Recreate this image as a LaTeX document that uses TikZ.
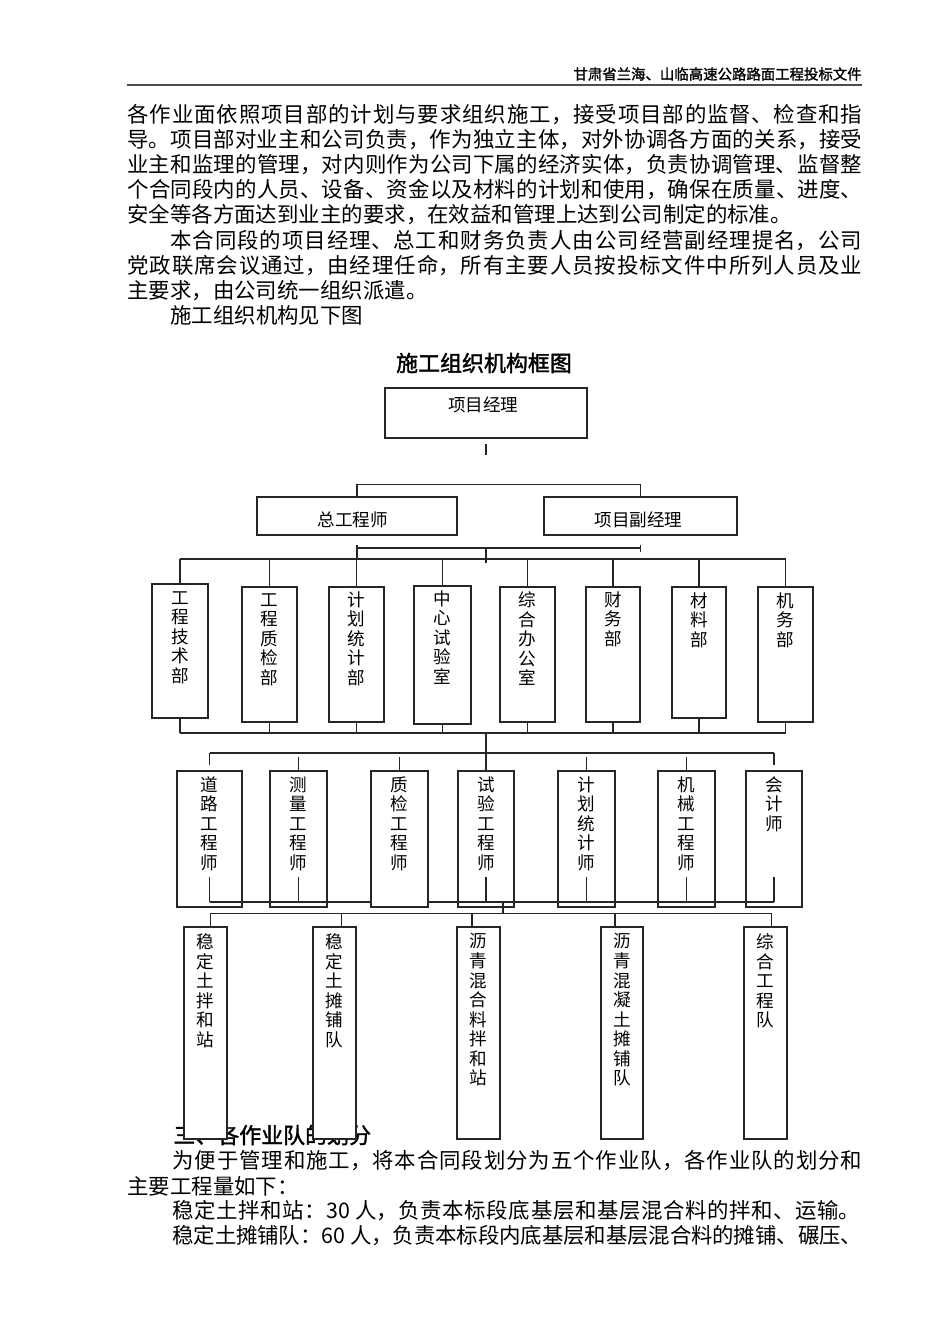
\documentclass[tikz,border=0pt]{standalone}
\usepackage{fontspec}
\setmainfont{Noto Sans CJK SC}
\newfontfamily\cjkbold{Noto Sans CJK SC}[FakeBold=1.6]
\XeTeXlinebreaklocale "zh"
\XeTeXlinebreakskip=0pt plus 4pt minus 0.5pt
\usetikzlibrary{positioning,calc}
\newcommand{\pu}{0.02cm}
\newcommand{\bodyfont}{\fontsize{12.2}{15}\selectfont}
\newcommand{\boxfont}{\fontsize{10}{11.1}\selectfont}
% 框：名字、左、右、上、下（像素）
\newcommand{\orgbox}[5]{%
  \node[kuang, minimum width=(#3-#2)*\pu, minimum height=(#5-#4)*\pu]
    (#1) at ({(#2+#3)/2},{(#4+#5)/2}) {};}
\tikzset{
  kuang/.style = {draw=black!85, line width=0.8pt, fill=white, inner sep=0pt},
  lian/.style  = {draw=black!85, line width=0.8pt},
  shu/.style   = {anchor=north, inner sep=0pt, align=center, font=\boxfont},
  heng/.style  = {inner sep=0pt, font=\boxfont},
  hang/.style  = {anchor=west, inner sep=0pt, font=\bodyfont},
  duan/.style  = {hang, align=justify,
                  execute at begin node={\parindent=0pt\parfillskip=0pt\relax}},
  cu/.style    = {inner sep=0pt, font=\cjkbold\fontsize{12.5}{15}\selectfont},
}

\begin{document}
\begin{tikzpicture}[x=0.02cm, y=-0.02cm]
  \fill[white] (0,0) rectangle (950,1344);
  \useasboundingbox (0,0) rectangle (950,1344);

  % 页眉
  \node[inner sep=0pt, anchor=east, font=\cjkbold\fontsize{8.2}{10}\selectfont] (yemei) at (862,74) {甘肃省兰海、山临高速公路路面工程投标文件};
  \draw[line width=1.1pt, black!70] (127,85) -- (862,85);

  % 正文
  \node[duan, text width=14.7cm] (p1) at (127,115) {各作业面依照项目部的计划与要求组织施工，接受项目部的监督、检查和指};
  \node[duan, text width=14.7cm] (p2) at (127,140) {导。项目部对业主和公司负责，作为独立主体，对外协调各方面的关系，接受};
  \node[duan, text width=14.7cm] (p3) at (127,165) {业主和监理的管理，对内则作为公司下属的经济实体，负责协调管理、监督整};
  \node[duan, text width=14.7cm] (p4) at (127,190) {个合同段内的人员、设备、资金以及材料的计划和使用，确保在质量、进度、};
  \node[hang] (p5) at (127,215) {安全等各方面达到业主的要求，在效益和管理上达到公司制定的标准。};
  \node[duan, text width=13.84cm] (p6) at (170,240.5) {本合同段的项目经理、总工和财务负责人由公司经营副经理提名，公司};
  \node[duan, text width=14.7cm] (p7) at (127,265.5) {党政联席会议通过，由经理任命，所有主要人员按投标文件中所列人员及业};
  \node[hang] (p8) at (127,290.5) {主要求，由公司统一组织派遣。};
  \node[hang] (p9) at (170,315.5) {施工组织机构见下图};

  \node[cu] (biaoti) at (484,363) {施工组织机构框图};

  % 领导层
  \orgbox{PM}{385}{587}{388}{438}
  \orgbox{ZG}{257}{457}{497}{535}
  \orgbox{FJ}{544}{737}{497}{535}
  \node[heng] (PM-t) at (486,405) {\makebox[1.52cm][s]{项目经理}};
  \node[heng] (ZG-t) at (358,520) {\makebox[1.62cm][s]{总工程师}};
  \node[heng] (FJ-t) at (643,520) {\makebox[1.94cm][s]{项目副经理}};

  % 部室
  \orgbox{d1}{152}{208}{584}{718}
  \orgbox{d2}{242}{297}{587}{722}
  \orgbox{d3}{329}{384}{587}{722}
  \orgbox{d4}{414}{471}{586}{724}
  \orgbox{d5}{500}{555}{587}{722}
  \orgbox{d6}{586}{640}{587}{722}
  \orgbox{d7}{672}{726}{587}{718}
  \orgbox{d8}{758}{813}{587}{722}
  \node[shu] (d1-t) at ($(d1.north)+(0,8)$) {工\\程\\技\\术\\部};
  \node[shu] (d2-t) at ($(d2.north)+(0,7)$) {工\\程\\质\\检\\部};
  \node[shu] (d3-t) at ($(d3.north)+(0,5)$) {计\\划\\统\\计\\部};
  \node[shu] (d4-t) at ($(d4.north)+(0,5)$) {中\\心\\试\\验\\室};
  \node[shu] (d5-t) at ($(d5.north)+(0,5)$) {综\\合\\办\\公\\室};
  \node[shu] (d6-t) at ($(d6.north)+(0,5)$) {财\\务\\部};
  \node[shu] (d7-t) at ($(d7.north)+(0,6)$) {材\\料\\部};
  \node[shu] (d8-t) at ($(d8.north)+(0,6)$) {机\\务\\部};

  % 工程师
  \orgbox{e1}{177}{242}{771}{907}
  \orgbox{e2}{270}{327}{771}{907}
  \orgbox{e3}{371}{428}{771}{907}
  \orgbox{e4}{458}{514}{771}{907}
  \orgbox{e5}{558}{615}{771}{907}
  \orgbox{e6}{658}{715}{771}{907}
  \orgbox{e7}{746}{802}{771}{907}
  \node[shu] (e1-t) at ($(e1.north)+(0,6)$) {道\\路\\工\\程\\师};
  \node[shu] (e2-t) at ($(e2.north)+(0,6)$) {测\\量\\工\\程\\师};
  \node[shu] (e3-t) at ($(e3.north)+(0,6)$) {质\\检\\工\\程\\师};
  \node[shu] (e4-t) at ($(e4.north)+(0,6)$) {试\\验\\工\\程\\师};
  \node[shu] (e5-t) at ($(e5.north)+(0,6)$) {计\\划\\统\\计\\师};
  \node[shu] (e6-t) at ($(e6.north)+(0,6)$) {机\\械\\工\\程\\师};
  \node[shu] (e7-t) at ($(e7.north)+(0,6)$) {会\\计\\师};

  % 作业队（盖住小标题）
  \node[cu, anchor=west] (biaoti2) at (173,1135) {三、各作业队的划分};
  \orgbox{t1}{184}{227}{927}{1139}
  \orgbox{t2}{313}{356}{927}{1139}
  \orgbox{t3}{457}{500}{927}{1139}
  \orgbox{t4}{601}{643}{927}{1139}
  \orgbox{t5}{744}{787}{927}{1139}
  \node[shu] (t1-t) at ($(t1.north)+(0,7)$) {稳\\定\\土\\拌\\和\\站};
  \node[shu] (t2-t) at ($(t2.north)+(0,7)$) {稳\\定\\土\\摊\\铺\\队};
  \node[shu] (t3-t) at ($(t3.north)+(0,7)$) {沥\\青\\混\\合\\料\\拌\\和\\站};
  \node[shu] (t4-t) at ($(t4.north)+(0,7)$) {沥\\青\\混\\凝\\土\\摊\\铺\\队};
  \node[shu] (t5-t) at ($(t5.north)+(0,7)$) {综\\合\\工\\程\\队};

  % 连线
  \coordinate (zongA) at (486,548);
  \coordinate (zongB) at (486,559);
  \coordinate (zongC) at (486,733);
  \coordinate (zongD) at (486,753);
  \coordinate (zongE) at (503,902);
  \coordinate (zongF) at (503,914);
  \draw[lian] (PM.south) ++(0,5) -- ++(0,11);
  \draw[lian] (ZG.north) -- ++(0,-12) -| (FJ.north);
  \draw[lian] (ZG.south |- zongA) -- (FJ.south |- zongA);
  \draw[lian] (FJ.south |- zongA) ++(0,-3.5) -- ++(0,7);
  \draw[lian] (ZG.south |- zongA) ++(0,-3.5) -- (ZG.south |- zongB);
  \draw[lian] (zongA) -- ++(0,14.5);
  \draw[lian] (d1.north |- zongB) -- (d8.north |- zongB);
  \foreach \i in {1,...,8} \draw[lian] (d\i.north |- zongB) -- (d\i.north);
  \foreach \i in {1,...,8} \draw[lian] (d\i.south) -- (d\i.south |- zongC);
  \draw[lian] (d1.south |- zongC) -- (d8.south |- zongC);
  \draw[lian] (zongC) -- (e4.north);
  \draw[lian] (e1.north |- zongD) -- (e7.north |- zongD);
  \foreach \i in {1,7} \draw[lian] (e\i.north |- zongD) -- ++(0,12);
  \foreach \i in {2,3,5,6} \draw[lian] (e\i.north) -- ++(0,-13);
  \foreach \i in {1,2,4,5,6,7} \draw[lian] (e\i.south |- zongE) -- ++(0,-25);
  \draw[lian] (e1.south |- zongE) -- (e3.west |- zongE);
  \draw[lian] (e3.east |- zongE) -- (e7.south |- zongE);
  \draw[lian] (zongE) -- (zongF);
  \draw[lian] ($(t1.north)+(5,-13)$) -- ($(t5.north)+(6,-13)$);
  \foreach \t/\dx in {t1/5, t2/7, t3/-6.5, t4/-7, t5/6}
    \draw[lian] ($(\t.north)+(\dx,0)$) -- ++(0,-13);

  % 下文
  \node[duan, text width=13.8cm] (q1) at (172,1161) {为便于管理和施工，将本合同段划分为五个作业队，各作业队的划分和};
  \node[hang] (q2) at (127,1186) {主要工程量如下：};
  \node[duan, text width=13.76cm] (q3) at (172,1211) {稳定土拌和站：30 人，负责本标段底基层和基层混合料的拌和、运输。};
  \node[duan, text width=13.8cm] (q4) at (172,1236) {稳定土摊铺队：60 人，负责本标段内底基层和基层混合料的摊铺、碾压、};
\end{tikzpicture}
\end{document}
